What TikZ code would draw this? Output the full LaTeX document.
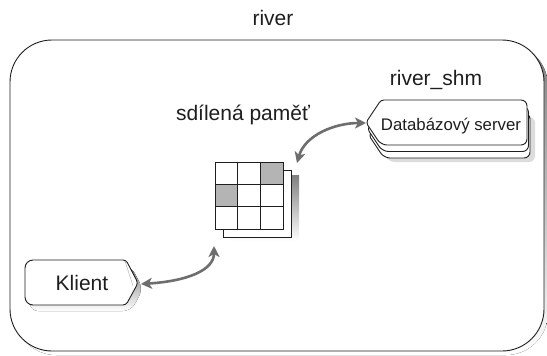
\documentclass[tikz,border=0pt]{standalone}
\usepackage{fontspec}
\setmainfont{Liberation Sans}
\usetikzlibrary{arrows.meta}
\definecolor{shade}{HTML}{DCDCDC}
\definecolor{ink}{HTML}{1E1E1E}
\definecolor{link}{HTML}{6E6E6E}
\definecolor{cellgray}{HTML}{B4B4B4}
\tikzset{
  outline/.style={draw=ink, line width=0.9pt},
  label/.style={font=\fontsize{21}{24}\selectfont, text=ink, inner sep=0pt},
  dblabel/.style={font=\fontsize{16.8}{20}\selectfont, text=ink, inner sep=0pt},
  link/.style={draw=link, line width=2.6pt,
    {Stealth[length=11pt,width=11pt,inset=3pt]}-{Stealth[length=11pt,width=11pt,inset=3pt]}},
  card/.style={outline, fill=white},
}
% server card: point on the left, rounded on the right
\newcommand\servercard[1]{%
  \path[#1, rounded corners=6] (450,100) -- (527,100) -- (527,145) -- (381,145)
     [rounded corners=3] -- (366,122.5) -- (381,100) [rounded corners=6] -- cycle;}
\begin{document}
\begin{tikzpicture}[x=1pt, y=-1pt]
\useasboundingbox (0,0) rectangle (547,356);

% outer process frame
\fill[shade, rounded corners=42] (14,44) rectangle (548,355);
\path[outline, fill=white, rounded corners=42] (10,40) rectangle (544,351);
\node[label, anchor=base] (river) at (273,25) {river};

% database server: a stack of three cards
\begin{scope}[shift={(8,17)}]\servercard{fill=shade}\end{scope}
\begin{scope}[shift={(3,13)}]\servercard{card}\end{scope}
\begin{scope}[shift={(1.5,6.5)}]\servercard{card}\end{scope}
\servercard{card}
\node[dblabel, anchor=base] (db) at (451,130) {Databázový server};
\node[label, anchor=base] (shm) at (436,85) {river\_shm};

% shared memory: a 3x3 page over a second page
\fill[shade] (230,175) rectangle (299,241);
\path[card] (223,170) rectangle (291,237);
\path[card] (215,162) rectangle (283,229);
\fill[cellgray] (260.33,162) rectangle (283,184.67);
\fill[cellgray] (215,184.67) rectangle (237.67,207.33);
\foreach \i in {1,2} {
  \draw[ink, line width=0.9pt] ({215+\i*22.667},162) -- ({215+\i*22.667},229);
  \draw[ink, line width=0.9pt] (215,{162+\i*22.333}) -- (283,{162+\i*22.333});
}
\draw[outline] (215,162) rectangle (283,229);
\node[label, anchor=base] (mem) at (243,120) {sdílená paměť};

% client
\fill[shade, rounded corners=8] (30,289) -- (30,266) -- (131,266) -- (143,289)
   -- (131,311) -- (30,311) -- cycle;
\path[card, rounded corners=8] (25,283) -- (25,260) [rounded corners=3] -- (126,260)
   -- (138,283) -- (126,305) [rounded corners=8] -- (25,305) -- cycle;
\draw[shade!70!black, line width=0.3pt] (125,261) -- (133,286);
\node[label, anchor=base] (client) at (82,290) {Klient};

% arrow end points beside the shapes
\coordinate (clientEnd) at (141,284);
\coordinate (memLow) at (214,246);
\coordinate (memHigh) at (297,163);
\coordinate (dbEnd) at (366,123);

\draw[link] (clientEnd) .. controls (188,281) and (214,270) .. (memLow);
\draw[link] (memHigh) .. controls (305,135) and (335,123) .. (dbEnd);
\end{tikzpicture}
\end{document}
